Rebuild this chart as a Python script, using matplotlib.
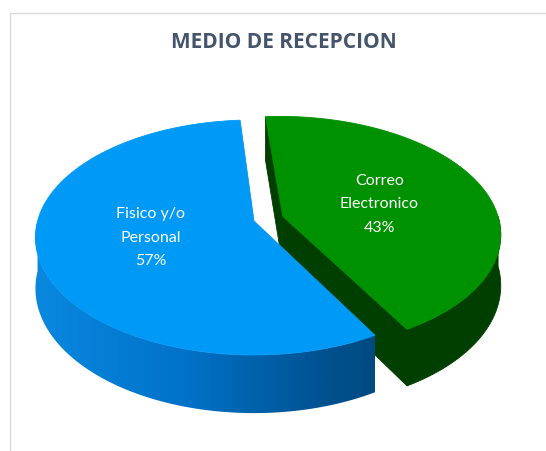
import numpy as np
import matplotlib
matplotlib.use('Agg')
import matplotlib.pyplot as plt
from matplotlib.patches import Polygon, Rectangle
from matplotlib.colors import LinearSegmentedColormap

# ---- data ----
title = "MEDIO DE RECEPCION"
categories = ["Correo\nElectronico", "Fisico y/o\nPersonal"]
values = [43, 57]
explode = [0.14, 0.0]

top_colors = ['#009100', '#0099F5']
side_colors = ['#003F00', '#0060A8']
side_gradients = [None, ['#0A88E0', '#0073C9', '#00518F', '#003964']]

# ---- figure ----
fig = plt.figure(figsize=(5.46, 4.51), dpi=100)
ax = fig.add_axes([0, 0, 1, 1])
ax.set_xlim(0, 546)
ax.set_ylim(451, 0)
ax.axis('off')

# chart frame
ax.add_patch(Rectangle((9.5, 12.5), 700, 600, fill=False, edgecolor='#D9D9E0', lw=1.0))

# 3D pie geometry (perspective projection of a horizontal disc)
CX, CY = 254, 221
A0, B0 = 216.4, 115.2
K = 0.14
D0 = 50
START = 94.2


def proj(X, Y, z=0.0):
    X = np.asarray(X, float)
    Y = np.asarray(Y, float)
    s = 1.0 / (1.0 + K * Y)
    return CX + A0 * X * s, CY - B0 * Y * s + z * D0 * s


total = float(sum(values))
slices = []
cum = 0.0
for i, v in enumerate(values):
    t1 = START - cum / total * 360.0
    t2 = t1 - v / total * 360.0
    cum += v
    mid = np.radians((t1 + t2) / 2)
    ox, oy = explode[i] * np.cos(mid), explode[i] * np.sin(mid)
    slices.append(dict(i=i, t1=t1, t2=t2, mid=mid, ox=ox, oy=oy))


def add_poly(xs, ys, color, gradient=None, z=1):
    pts = np.column_stack([xs, ys])
    if gradient is None:
        p = Polygon(pts, closed=True, facecolor=color, edgecolor=color, lw=0.6, zorder=z)
        ax.add_patch(p)
    else:
        p = Polygon(pts, closed=True, facecolor='none', edgecolor='none', lw=0, zorder=z)
        ax.add_patch(p)
        cmap = LinearSegmentedColormap.from_list('g', gradient)
        x0, x1 = CX - A0 * 1.02, CX + A0 * 1.02
        y0, y1 = ys.min() - 2, ys.max() + 2
        grad = np.linspace(0, 1, 512).reshape(1, -1)
        im = ax.imshow(grad, cmap=cmap, extent=(x0, x1, y1, y0), aspect='auto',
                       interpolation='bilinear', zorder=z)
        im.set_clip_path(p)


# side faces, back slices first
order = sorted(slices, key=lambda s: -(np.sin(s['mid']) + s['oy']))
for s in order:
    i = s['i']
    ox, oy = s['ox'], s['oy']
    # radial faces
    for ang, visible in ((s['t1'], np.cos(np.radians(s['t1'])) < 0),
                         (s['t2'], np.cos(np.radians(s['t2'])) > 0)):
        if visible:
            a = np.radians(ang)
            Xs = np.array([ox, ox + np.cos(a)])
            Ys = np.array([oy, oy + np.sin(a)])
            xt, yt = proj(Xs, Ys, 0)
            xb, yb = proj(Xs, Ys, 1)
            add_poly(np.r_[xt, xb[::-1]], np.r_[yt, yb[::-1]], side_colors[i], z=1)
    # outer wall (front part only)
    th = np.radians(np.linspace(s['t1'], s['t2'], 400))
    front = np.sin(th) < 0
    idx = np.where(front)[0]
    if len(idx):
        runs = np.split(idx, np.where(np.diff(idx) > 1)[0] + 1)
        for r in runs:
            t = th[r]
            Xs = ox + np.cos(t)
            Ys = oy + np.sin(t)
            xt, yt = proj(Xs, Ys, 0)
            xb, yb = proj(Xs, Ys, 1)
            add_poly(np.r_[xt, xb[::-1]], np.r_[yt, yb[::-1]], side_colors[i],
                     gradient=side_gradients[i], z=2)

# top faces
for s in slices:
    i = s['i']
    th = np.radians(np.linspace(s['t1'], s['t2'], 400))
    Xs = np.r_[s['ox'], s['ox'] + np.cos(th)]
    Ys = np.r_[s['oy'], s['oy'] + np.sin(th)]
    xt, yt = proj(Xs, Ys, 0)
    add_poly(xt, yt, top_colors[i], z=3)

# data labels
label_r = [0.47, 0.49]
for s in slices:
    i = s['i']
    r = label_r[i]
    X = s['ox'] + r * np.cos(s['mid'] - 0.06 * (i == 0))
    Y = s['oy'] + r * np.sin(s['mid'] - 0.06 * (i == 0))
    lx, ly = proj(X, Y, 0)
    pct = int(round(values[i] / total * 100))
    ax.text(float(lx), float(ly), f"{categories[i]}\n{pct}%", ha='center', va='center',
            color='white', fontsize=11.5, family=['Lato', 'DejaVu Sans'],
            linespacing=1.85, zorder=5)

# title
ax.text(284, 43, title, ha='center', va='center', color='#44546A', fontsize=15,
        fontweight='bold', family=['Open Sans', 'DejaVu Sans'], zorder=5)

fig.savefig('out.png', dpi=100)
